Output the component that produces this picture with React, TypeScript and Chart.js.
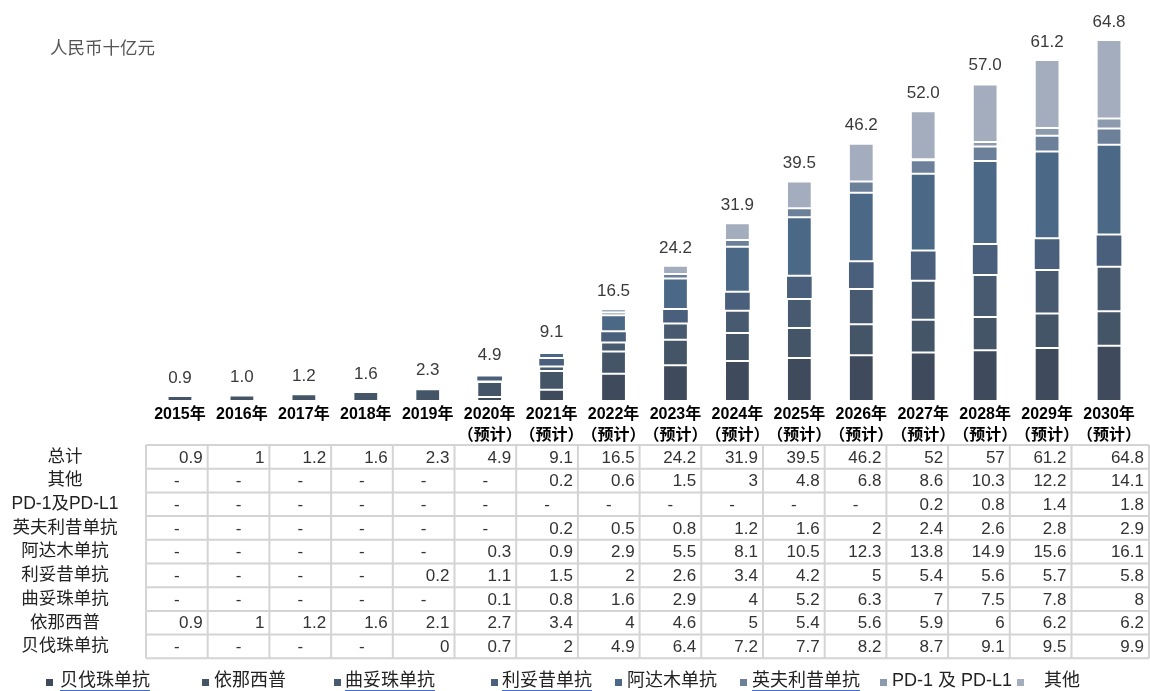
import React, { useEffect, useRef } from 'react';
import { Chart, registerables } from 'chart.js';

Chart.register(...registerables);

// ---------- data ----------
const YEARS = ['2015年', '2016年', '2017年', '2018年', '2019年', '2020年', '2021年', '2022年', '2023年', '2024年', '2025年', '2026年', '2027年', '2028年', '2029年', '2030年'];
const SUBLABELS = ['', '', '', '', '', '（预计）', '（预计）', '（预计）', '（预计）', '（预计）', '（预计）', '（预计）', '（预计）', '（预计）', '（预计）', '（预计）'];

const TOTALS = [0.9, 1, 1.2, 1.6, 2.3, 4.9, 9.1, 16.5, 24.2, 31.9, 39.5, 46.2, 52, 57, 61.2, 64.8];
const OTHERS = [null, null, null, null, null, null, 0.2, 0.6, 1.5, 3, 4.8, 6.8, 8.6, 10.3, 12.2, 14.1];
const PD1 = [null, null, null, null, null, null, null, null, null, null, null, null, 0.2, 0.8, 1.4, 1.8];
const INFLIXIMAB = [null, null, null, null, null, null, 0.2, 0.5, 0.8, 1.2, 1.6, 2, 2.4, 2.6, 2.8, 2.9];
const ADALIMUMAB = [null, null, null, null, null, 0.3, 0.9, 2.9, 5.5, 8.1, 10.5, 12.3, 13.8, 14.9, 15.6, 16.1];
const RITUXIMAB = [null, null, null, null, 0.2, 1.1, 1.5, 2, 2.6, 3.4, 4.2, 5, 5.4, 5.6, 5.7, 5.8];
const TRASTUZUMAB = [null, null, null, null, null, 0.1, 0.8, 1.6, 2.9, 4, 5.2, 6.3, 7, 7.5, 7.8, 8];
const ETANERCEPT = [0.9, 1, 1.2, 1.6, 2.1, 2.7, 3.4, 4, 4.6, 5, 5.4, 5.6, 5.9, 6, 6.2, 6.2];
const BEVACIZUMAB = [null, null, null, null, 0, 0.7, 2, 4.9, 6.4, 7.2, 7.7, 8.2, 8.7, 9.1, 9.5, 9.9];

const SERIES_NAMES = ['贝伐珠单抗', '依那西普', '曲妥珠单抗', '利妥昔单抗', '阿达木单抗', '英夫利昔单抗', 'PD-1 及 PD-L1', '其他'];
const SERIES_VALUES = [BEVACIZUMAB, ETANERCEPT, TRASTUZUMAB, RITUXIMAB, ADALIMUMAB, INFLIXIMAB, PD1, OTHERS];
const SERIES_COLORS = ['#3f4a5c', '#445568', '#475a70', '#4a5f7c', '#4b6886', '#6c8199', '#8c9aad', '#a3adbd'];

const TABLE_ROW_LABELS = ['总计', '其他', 'PD-1及PD-L1', '英夫利昔单抗', '阿达木单抗', '利妥昔单抗', '曲妥珠单抗', '依那西普', '贝伐珠单抗'];
const TABLE_ROWS = [TOTALS, OTHERS, PD1, INFLIXIMAB, ADALIMUMAB, RITUXIMAB, TRASTUZUMAB, ETANERCEPT, BEVACIZUMAB];

const UNIT_LABEL = '人民币十亿元';

// ---------- layout / style ----------
const W = 1150;
const H = 691;
const LATIN_CJK = '"Liberation Sans", Arial, "Noto Sans CJK SC", sans-serif';
const CJK = '"Noto Sans CJK SC", "Liberation Sans", sans-serif';

const TABLE_LEFT = 146;
const COL_W = 61.7;
const TABLE_RIGHT = 1149;
const TABLE_TOP = 445;
const ROW_H = 23.7;

const LEGEND_MARKER_X = [46, 202, 334, 491, 615, 740, 880, 1017];
const LEGEND_TEXT_X = [60, 214, 345, 502, 627, 752, 892, 1044];
const LEGEND_UNDERLINED = [true, false, true, true, false, true, false, false];
const LEGEND_Y = 681;

const overlayPlugin = {
  id: 'overlay',
  afterDatasetsDraw(chart: any) {
    const ctx: CanvasRenderingContext2D = chart.ctx;
    const x = chart.scales.x;
    const y = chart.scales.y;
    ctx.save();

    // total labels above bars
    ctx.font = '17px ' + LATIN_CJK;
    ctx.fillStyle = '#3a3a3a';
    ctx.textAlign = 'center';
    ctx.textBaseline = 'middle';
    TOTALS.forEach((t, i) => {
      ctx.fillText(t.toFixed(1), x.getPixelForValue(i), y.getPixelForValue(t) - 18);
    });

    // unit label
    ctx.font = '17.5px ' + CJK;
    ctx.fillStyle = '#555555';
    ctx.textAlign = 'left';
    ctx.fillText(UNIT_LABEL, 50, 47);

    // table grid
    const nCols = YEARS.length;
    const colLeft = (i: number) => TABLE_LEFT + COL_W * i;
    const colRight = (i: number) => (i === nCols - 1 ? TABLE_RIGHT : colLeft(i + 1));
    const tableBottom = TABLE_TOP + ROW_H * TABLE_ROWS.length;
    ctx.strokeStyle = '#d4d4d4';
    ctx.lineWidth = 2;
    ctx.beginPath();
    for (let r = 0; r <= TABLE_ROWS.length; r++) {
      const yy = TABLE_TOP + ROW_H * r;
      ctx.moveTo(TABLE_LEFT, yy);
      ctx.lineTo(TABLE_RIGHT, yy);
    }
    for (let c = 0; c <= nCols; c++) {
      const xx = c === nCols ? TABLE_RIGHT : colLeft(c);
      ctx.moveTo(xx, TABLE_TOP);
      ctx.lineTo(xx, tableBottom);
    }
    ctx.stroke();

    // table cells
    ctx.font = '17px ' + LATIN_CJK;
    ctx.fillStyle = '#333333';
    ctx.textBaseline = 'middle';
    TABLE_ROWS.forEach((row, r) => {
      const cy = TABLE_TOP + ROW_H * r + ROW_H / 2 + 1;
      row.forEach((v, c) => {
        if (v === null || v === undefined) {
          ctx.textAlign = 'center';
          ctx.fillText('-', (colLeft(c) + colRight(c)) / 2, cy);
        } else {
          ctx.textAlign = 'right';
          ctx.fillText(String(v), colRight(c) - 5, cy);
        }
      });
    });

    // table row labels
    ctx.font = '17.5px ' + LATIN_CJK;
    ctx.fillStyle = '#222222';
    ctx.textAlign = 'center';
    TABLE_ROW_LABELS.forEach((lab, r) => {
      ctx.fillText(lab, 65, TABLE_TOP + ROW_H * r + ROW_H / 2);
    });

    // legend
    ctx.font = '18px ' + LATIN_CJK;
    ctx.textAlign = 'left';
    SERIES_NAMES.forEach((name, i) => {
      ctx.fillStyle = SERIES_COLORS[i];
      ctx.fillRect(LEGEND_MARKER_X[i], LEGEND_Y - 2, 7, 7);
      ctx.fillStyle = '#222222';
      ctx.fillText(name, LEGEND_TEXT_X[i], LEGEND_Y);
      if (LEGEND_UNDERLINED[i]) {
        const w = ctx.measureText(name).width;
        ctx.strokeStyle = '#3b6fd4';
        ctx.lineWidth = 1;
        ctx.beginPath();
        ctx.moveTo(LEGEND_TEXT_X[i], 690.5);
        ctx.lineTo(LEGEND_TEXT_X[i] + w, 690.5);
        ctx.stroke();
      }
    });

    ctx.restore();
  },
};

export default function App() {
  const canvasRef = useRef<HTMLCanvasElement | null>(null);

  useEffect(() => {
    document.body.style.margin = '0';
    const canvas = canvasRef.current;
    if (!canvas) return;
    const labels = YEARS.map((yr, i) => (SUBLABELS[i] ? [yr, SUBLABELS[i]] : [yr]));
    const chart = new Chart(canvas, {
      type: 'bar',
      data: {
        labels,
        datasets: SERIES_NAMES.map((name, i) => ({
          label: name,
          data: SERIES_VALUES[i] as any,
          backgroundColor: SERIES_COLORS[i],
          borderColor: '#ffffff',
          borderWidth: 1,
          borderSkipped: false,
          categoryPercentage: 1,
          barPercentage: i === 3 ? 0.43 : 0.4,
        })),
      },
      options: {
        responsive: false,
        animation: false,
        devicePixelRatio: 1,
        layout: { padding: { left: 149, right: 10, top: 20, bottom: 0 } },
        plugins: {
          legend: { display: false },
          tooltip: { enabled: false },
        },
        scales: {
          x: {
            stacked: true,
            grid: { display: false, drawTicks: false },
            border: { display: false },
            ticks: {
              color: '#000000',
              font: { size: 16, weight: 'bold', family: LATIN_CJK, lineHeight: 1.3 },
              padding: 3,
              maxRotation: 0,
              autoSkip: false,
            },
            afterFit: (scale: any) => {
              scale.height = 290;
            },
          },
          y: {
            stacked: true,
            display: false,
            min: 0,
            max: 68.4,
          },
        },
      },
      plugins: [overlayPlugin],
    } as any);
    return () => chart.destroy();
  }, []);

  return (
    <div style={{ width: W, height: H, position: 'relative', background: '#ffffff' }}>
      <canvas ref={canvasRef} width={W} height={H} style={{ display: 'block', width: W, height: H }} />
    </div>
  );
}
